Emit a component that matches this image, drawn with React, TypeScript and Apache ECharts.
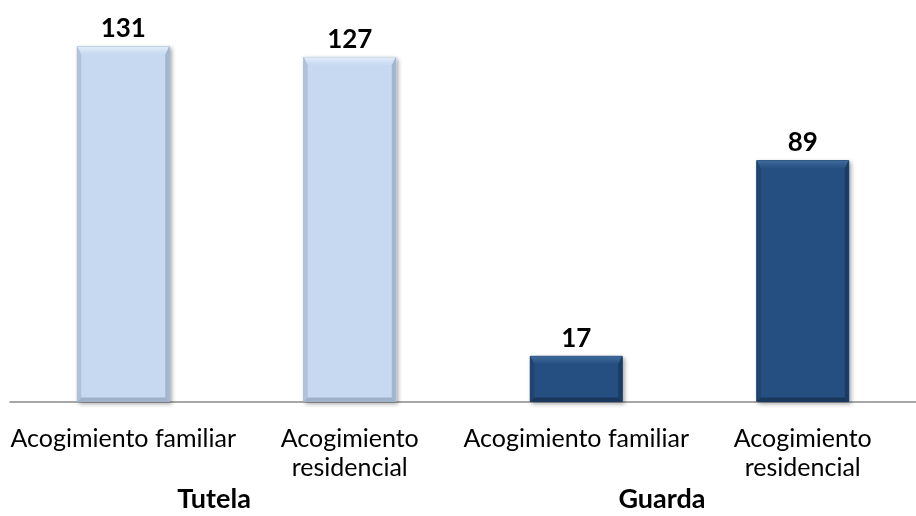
import React, { useEffect, useRef } from "react";
import * as echarts from "echarts";

const categories = [
  "Acogimiento familiar",
  "Acogimiento residencial",
  "Acogimiento familiar",
  "Acogimiento residencial",
];
const values = [131, 127, 17, 89];
const groups = ["Tutela", "Guarda"];
const groupOfBar = [0, 0, 1, 1];

const FONT = "Lato";
const groupCenters = [214, 662];
const BAR_W = 93;

const styles = [
  { base: "#C6D9F1", top: "#E2ECF8", side: "#AFC2DA", right: "#A3B6CF", bottom: "#9EB1C9", border: "#A2B5CD" },
  { base: "#254F81", top: "#3F6A9C", side: "#1F4470", right: "#1A3B62", bottom: "#19385C", border: "#1D3F68" },
];

export default function App() {
  const ref = useRef<HTMLDivElement>(null);
  useEffect(() => {
    if (!ref.current) return;
    const chart = echarts.init(ref.current, null, { renderer: "svg" });
    chart.setOption({
      animation: false,
      grid: { left: 10, width: 918, top: 21.5, height: 380.5 },
      xAxis: {
        type: "category",
        data: categories,
        axisLine: { lineStyle: { color: "#8A8A8A", width: 1.5 } },
        axisTick: { length: 8, lineStyle: { color: "#8A8A8A", width: 1.5 } },
        axisLabel: {
          interval: 0,
          margin: 20,
          color: "#000",
          fontFamily: FONT,
          fontSize: 25,
          lineHeight: 29,
          formatter: (v: string) => v.replace(" residencial", "\nresidencial"),
        },
      },
      yAxis: { type: "value", min: 0, max: 140, show: false },
      series: [
        {
          type: "bar",
          barWidth: BAR_W,
          z: 2,
          data: values.map((v, i) => ({
            value: v,
            itemStyle: {
              color: styles[groupOfBar[i]].base,
              borderColor: styles[groupOfBar[i]].border,
              borderWidth: 1,
              shadowColor: "rgba(0,0,0,0.35)",
              shadowBlur: 4,
              shadowOffsetX: 2,
              shadowOffsetY: 2,
            },
          })),
          label: {
            show: true,
            position: "top",
            distance: 6,
            color: "#000",
            fontFamily: FONT,
            fontWeight: "bold",
            fontSize: 26,
          },
        },
        {
          type: "custom",
          z: 3,
          silent: true,
          data: values.map((v, i) => [i, v]),
          renderItem: (params: any, api: any) => {
            const idx = api.value(0);
            const v = api.value(1);
            const st = styles[groupOfBar[idx]];
            const tp = api.coord([idx, v]);
            const bs = api.coord([idx, 0]);
            const l = tp[0] - BAR_W / 2 + 0.5;
            const r = tp[0] + BAR_W / 2 - 0.5;
            const t = tp[1] + 0.5;
            const b = bs[1] - 0.5;
            const dt = Math.min(8, (b - t) / 3);
            const ds = 4;
            const db = Math.min(4, (b - t) / 4);
            return {
              type: "group",
              children: [
                {
                  type: "polygon",
                  shape: { points: [[l, t], [r, t], [r - ds, t + dt], [l + ds, t + dt]] },
                  style: {
                    fill: new echarts.graphic.LinearGradient(0, 0, 0, 1, [
                      { offset: 0, color: st.top },
                      { offset: 1, color: st.base },
                    ]),
                  },
                },
                {
                  type: "polygon",
                  shape: { points: [[l, t], [l + ds, t + dt], [l + ds, b - db], [l, b]] },
                  style: { fill: st.side },
                },
                {
                  type: "polygon",
                  shape: { points: [[r, t], [r - ds, t + dt], [r - ds, b - db], [r, b]] },
                  style: { fill: st.right },
                },
                {
                  type: "polygon",
                  shape: { points: [[l, b], [l + ds, b - db], [r - ds, b - db], [r, b]] },
                  style: { fill: st.bottom },
                },
              ],
            };
          },
        },
      ],
      graphic: groups.map((g, i) => ({
        type: "text",
        x: groupCenters[i],
        y: 497,
        style: {
          text: g,
          fontFamily: FONT,
          fontWeight: "bold",
          fontSize: 27,
          fill: "#000",
          align: "center",
          verticalAlign: "middle",
        },
      })),
    });
    return () => chart.dispose();
  }, []);
  return (
    <div
      ref={ref}
      style={{ position: "fixed", left: 0, top: 0, width: 916, height: 516 }}
    />
  );
}
